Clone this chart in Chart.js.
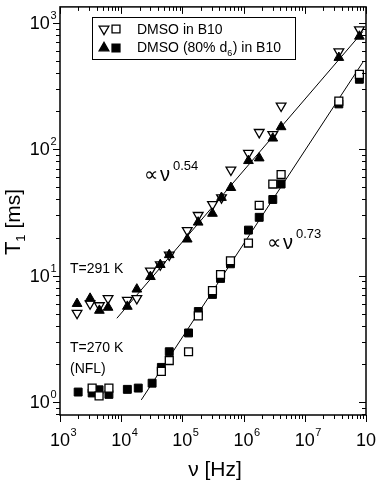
<!DOCTYPE html>
<html>
<head>
<meta charset="utf-8">
<script src="https://cdn.jsdelivr.net/npm/chart.js@4.4.0/dist/chart.umd.min.js"></script>
<style>
    html, body { margin: 0; padding: 0; background: #fff; }
    canvas { display: block; }
</style>
</head>
<body>
<canvas id="t1-chart" width="377" height="480"></canvas>
<script>
// --- данные ---
// T = 291 K
const freq291 = [1900, 3100, 4400, 6100, 12600, 18000, 30000, 43500, 61000, 120000, 181000, 310000, 435000, 620000, 1.2e6, 1.8e6, 3.0e6, 4.1e6, 3.6e7, 7.8e7];
const t1Open291 = [5.05, 6.0, 5.8, 6.6, 6.4, 6.6, 10.9, 12.2, 14.6, 22.8, 30, 36.6, 41.4, 68.5, 93, 136, 131, 220, 590, 880];   // ▽ DMSO in B10
const t1Filled291 = [6.0, 6.6, 5.3, 5.6, 5.7, 7.8, 9.8, 12.2, 14.6, 19.4, 26.4, 31, 41.4, 49.6, 81, 85, 122, 150, 530, 780]; // ▲ DMSO (80% d6)

// T = 270 K (NFL)
const freq270 = [1980, 3350, 4350, 6300, 12600, 19000, 32000, 45300, 61000, 126000, 182000, 310000, 420000, 610000, 1.2e6, 1.8e6, 3.0e6, 4.1e6, 3.6e7, 7.8e7];
const t1Open270 = [null, 1.29, 1.12, 1.29, null, null, null, 1.75, 2.13, 2.5, 4.8, 7.6, 10.2, 13.1, 18.1, 36, 53, 63, 240, 390];      // □
const t1Filled270 = [1.2, 1.18, 1.25, 1.15, 1.26, 1.29, 1.41, 1.88, 2.5, 3.52, 5.2, 7.1, 9.5, 12.4, 22.9, 28.9, 40, 53, 228, 357]; // ■

// подгоночные прямые  ∝ ν^0.54  и  ∝ ν^0.73
const fitFreq054 = [8500, 8.9e7];
const fitT1054 = [4.6, 850];
const fitFreq073 = [21300, 8.9e7];
const fitT1073 = [1.04, 488];

const xDecades = [3, 4, 5, 6, 7, 8];
const yDecades = [-1, 0, 1, 2, 3];
const xTickLabels = ['3', '4', '5', '6', '7', '8'];
const yTickLabels = ['0', '1', '2', '3'];

const FONT = "'Liberation Sans', Arial, sans-serif";

const toPoints = (xs, ys) => xs.map((x, i) => ({ x, y: ys[i] })).filter(p => p.y != null);

function drawMarker(ctx, style, rotation, radius, filled, x, y) {
    ctx.save();
    ctx.fillStyle = filled ? '#000' : '#fff';
    ctx.strokeStyle = '#000';
    ctx.lineWidth = 1.3;
    Chart.helpers.drawPoint(ctx, { pointStyle: style, rotation, radius, borderWidth: 1.3 }, x, y);
    ctx.restore();
}

function drawPower(ctx, exp, x, baseline, align) {
    ctx.font = '18px ' + FONT;
    const wb = ctx.measureText('10').width;
    ctx.font = '11px ' + FONT;
    const we = ctx.measureText(exp).width;
    const left = align === 'right' ? x - wb - we : x - (wb + we) / 2;
    ctx.textAlign = 'left';
    ctx.textBaseline = 'alphabetic';
    ctx.font = '18px ' + FONT;
    ctx.fillText('10', left, baseline);
    ctx.font = '11px ' + FONT;
    ctx.fillText(exp, left + wb + 0.5, baseline - 10);
}

const framePlugin = {
    id: 'frameAndLabels',
    afterDraw(chart) {
        const { ctx, chartArea: a, scales: { x, y } } = chart;
        ctx.save();
        ctx.fillStyle = '#000';
        ctx.strokeStyle = '#000';

        // рамка
        ctx.lineWidth = 1.5;
        ctx.strokeRect(a.left, a.top, a.right - a.left, a.bottom - a.top);

        // деления
        ctx.lineWidth = 1;
        ctx.beginPath();
        xDecades.forEach(d => {
            for (let m = 1; m <= 9; m++) {
                const v = m * Math.pow(10, d);
                if (v > x.max * 1.001) break;
                const px = Math.round(x.getPixelForValue(v)) + 0.5;
                const len = m === 1 ? 7 : 4;
                ctx.moveTo(px, a.bottom); ctx.lineTo(px, a.bottom + len);
                ctx.moveTo(px, a.top); ctx.lineTo(px, a.top + len);
            }
        });
        yDecades.forEach(d => {
            for (let m = 1; m <= 9; m++) {
                const v = m * Math.pow(10, d);
                if (v < y.min || v > y.max) continue;
                const py = Math.round(y.getPixelForValue(v)) + 0.5;
                const len = m === 1 ? 7 : 4;
                ctx.moveTo(a.left, py); ctx.lineTo(a.left - len, py);
                ctx.moveTo(a.right, py); ctx.lineTo(a.right - len, py);
            }
        });
        ctx.stroke();

        // подписи делений
        xDecades.forEach((d, i) => drawPower(ctx, xTickLabels[i], x.getPixelForValue(Math.pow(10, d)) + 3, 446, 'center'));
        yTickLabels.forEach(e => drawPower(ctx, e, a.left - 4, y.getPixelForValue(Math.pow(10, +e)) + 6, 'right'));

        // подписи осей
        ctx.textAlign = 'center';
        ctx.font = '21px ' + FONT;
        ctx.fillText('\u03bd [Hz]', 215, 476);

        ctx.save();
        ctx.translate(20, 222);
        ctx.rotate(-Math.PI / 2);
        ctx.textAlign = 'left';
        ctx.font = '22px ' + FONT;
        const wT = ctx.measureText('T').width;
        ctx.font = '13px ' + FONT;
        const w1 = ctx.measureText('1').width;
        ctx.font = '21px ' + FONT;
        const wMs = ctx.measureText(' [ms]').width;
        let lx = -(wT + w1 + wMs) / 2;
        ctx.font = '22px ' + FONT;
        ctx.fillText('T', lx, 0);
        ctx.font = '13px ' + FONT;
        ctx.fillText('1', lx + wT, 5);
        ctx.font = '21px ' + FONT;
        ctx.fillText(' [ms]', lx + wT + w1, 0);
        ctx.restore();

        // надписи на поле графика
        ctx.textAlign = 'left';
        ctx.font = '14px ' + FONT;
        ctx.fillText('T=291 K', 70, 273);
        ctx.fillText('T=270 K', 70, 352);
        ctx.fillText('(NFL)', 70, 373);

        const powerLaw = (px, py, exp) => {
            ctx.font = '20px ' + FONT;
            ctx.fillText('\u221d', px, py + 1);
            ctx.font = '20px ' + FONT;
            ctx.fillText('\u03bd', px + 16, py + 1);
            ctx.font = '13px ' + FONT;
            ctx.fillText(exp, px + 29, py - 10);
        };
        powerLaw(144, 180, '0.54');
        powerLaw(267, 248, '0.73');

        // легенда
        ctx.lineWidth = 1;
        ctx.strokeRect(92.5, 17.5, 203, 42);
        drawMarker(ctx, 'triangle', 180, 5.6, false, 104, 29);
        drawMarker(ctx, 'rect', 0, 5.6, false, 116, 29);
        drawMarker(ctx, 'triangle', 0, 5.6, true, 104, 48);
        drawMarker(ctx, 'rect', 0, 5.6, true, 116, 48);
        ctx.fillStyle = '#000';
        ctx.font = '14px ' + FONT;
        ctx.fillText('DMSO in B10', 137, 34);
        const pre = 'DMSO (80% d';
        ctx.fillText(pre, 137, 52);
        const wPre = ctx.measureText(pre).width;
        ctx.font = '9px ' + FONT;
        ctx.fillText('6', 137 + wPre, 56);
        const w6 = ctx.measureText('6').width;
        ctx.font = '14px ' + FONT;
        ctx.fillText(') in B10', 137 + wPre + w6 + 0.5, 52);

        ctx.restore();
    }
};

const openPoint = { borderColor: '#000', backgroundColor: '#fff', borderWidth: 1.3 };
const filledPoint = { borderColor: '#000', backgroundColor: '#000', borderWidth: 1 };

new Chart(document.getElementById('t1-chart'), {
    type: 'scatter',
    data: {
        datasets: [
            { label: 'DMSO (80% d6) in B10, 291 K', data: toPoints(freq291, t1Filled291), pointStyle: 'triangle', pointRadius: 5.6, ...filledPoint },
            { label: 'DMSO in B10, 270 K', data: toPoints(freq270, t1Open270), pointStyle: 'rect', pointRadius: 5.6, ...openPoint },
            { label: 'DMSO in B10, 291 K', data: toPoints(freq291, t1Open291), pointStyle: 'triangle', rotation: 180, pointRadius: 5.6, ...openPoint },
            { label: 'DMSO (80% d6) in B10, 270 K', data: toPoints(freq270, t1Filled270), pointStyle: 'rect', pointRadius: 5.6, ...filledPoint },
            { label: 'fit 0.54', type: 'line', data: toPoints(fitFreq054, fitT1054), borderColor: '#000', borderWidth: 1, pointRadius: 0, fill: false },
            { label: 'fit 0.73', type: 'line', data: toPoints(fitFreq073, fitT1073), borderColor: '#000', borderWidth: 1, pointRadius: 0, fill: false }
        ]
    },
    options: {
        responsive: false,
        animation: false,
        devicePixelRatio: 1,
        layout: { padding: { left: 60, right: 11, top: 2, bottom: 65 } },
        plugins: { legend: { display: false }, tooltip: { enabled: false } },
        scales: {
            x: { type: 'logarithmic', min: 1e3, max: 1e8, display: false },
            y: { type: 'logarithmic', min: 0.79, max: 1334, display: false }
        }
    },
    plugins: [framePlugin]
});
</script>
</body>
</html>
